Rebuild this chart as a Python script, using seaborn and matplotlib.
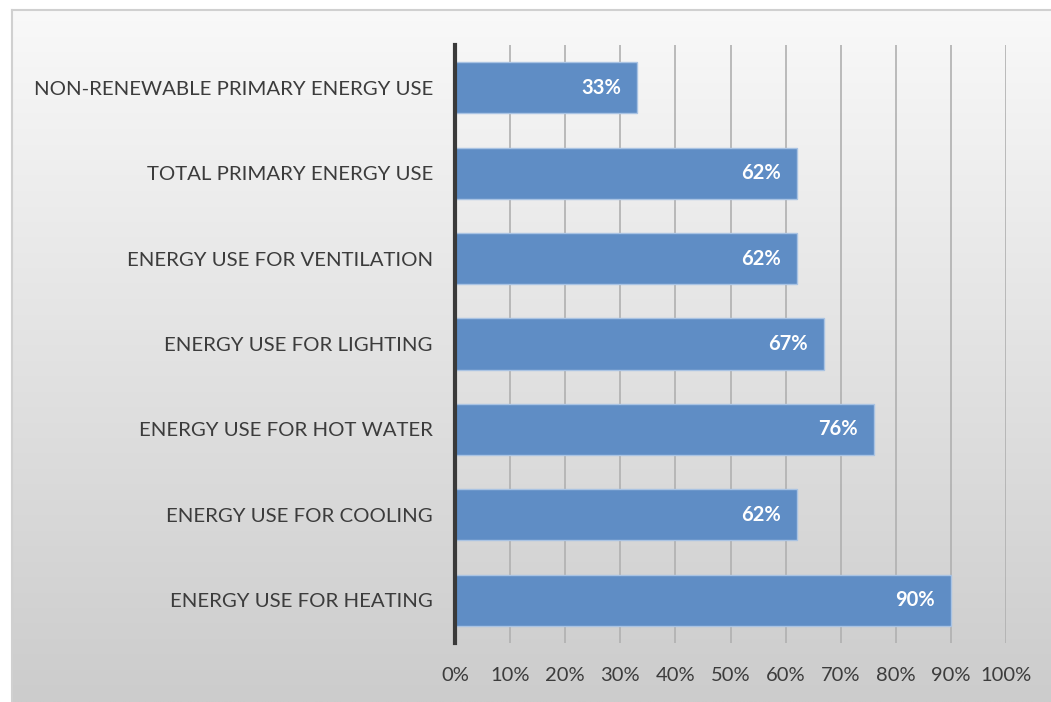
import numpy as np
import pandas as pd
import matplotlib
matplotlib.use("Agg")
import matplotlib.pyplot as plt
import seaborn as sns

categories = [
    "NON-RENEWABLE PRIMARY ENERGY USE",
    "TOTAL PRIMARY ENERGY USE",
    "ENERGY USE FOR VENTILATION",
    "ENERGY USE FOR LIGHTING",
    "ENERGY USE FOR HOT WATER",
    "ENERGY USE FOR COOLING",
    "ENERGY USE FOR HEATING",
]
shares = [33, 62, 62, 67, 76, 62, 90]
x_ticks = [0, 10, 20, 30, 40, 50, 60, 70, 80, 90, 100]

df = pd.DataFrame({"category": categories, "share": shares})

sns.set_theme(style="white")
plt.rcParams["font.family"] = ["Lato", "DejaVu Sans"]

W, H, DPI = 1051, 702, 100
fig = plt.figure(figsize=(W / DPI, H / DPI), dpi=DPI)
fig.patch.set_facecolor("white")

# gradient panel behind the chart
bg = fig.add_axes([12 / W, 0, 1 - 12 / W + 0.01, 1 - 10 / H], zorder=-10)
grad = np.linspace(0, 1, 256)[:, None]
top = np.array([0.975, 0.975, 0.975])
bot = np.array([0.80, 0.80, 0.80])
img = top[None, None, :] * (1 - grad[:, :, None]) + bot[None, None, :] * grad[:, :, None]
img = np.repeat(img, 4, axis=1)
bg.imshow(img, aspect="auto", extent=[0, 1, 0, 1], origin="upper")
bg.set_xticks([])
bg.set_yticks([])
for s in bg.spines.values():
    s.set_color("#d0d0d0")
    s.set_linewidth(1.5)
bg.spines["bottom"].set_visible(False)
bg.spines["right"].set_visible(False)

ax = fig.add_axes([455 / W, 1 - 643 / H, (1006 - 455) / W, (643 - 45) / H])
ax.set_facecolor("none")

sns.barplot(data=df, x="share", y="category", orient="h", color="#5f8dc5",
            width=0.6, edgecolor="#a9c3e3", linewidth=1.0, saturation=1, ax=ax,
            zorder=3)

ax.set_xlim(0, 100)
ax.set_ylim(6.5, -0.5)
ax.set_xticks(x_ticks)
ax.set_xticklabels([f"{t}%" for t in x_ticks])
ax.set_xlabel("")
ax.set_ylabel("")

for t in x_ticks[1:]:
    ax.axvline(t, color="#b0b0b0", linewidth=1.2, zorder=1)

for s in ["top", "right", "bottom"]:
    ax.spines[s].set_visible(False)
ax.spines["left"].set_color("#3a3a3a")
ax.spines["left"].set_linewidth(3)
ax.spines["left"].set_zorder(5)

ax.tick_params(axis="x", length=0, pad=17, labelsize=14.5, labelcolor="#3c3c3c")
ax.tick_params(axis="y", length=0, pad=16, labelsize=14.7, labelcolor="#3c3c3c")

for patch, val in zip(ax.patches, shares):
    y = patch.get_y() + patch.get_height() / 2
    ax.annotate(f"{val}%", xy=(val, y), xytext=(-11.5, 0), textcoords="offset points",
                ha="right", va="center", color="white", fontsize=14.5,
                fontweight="bold", zorder=6)

fig.savefig("out.png", dpi=DPI)
